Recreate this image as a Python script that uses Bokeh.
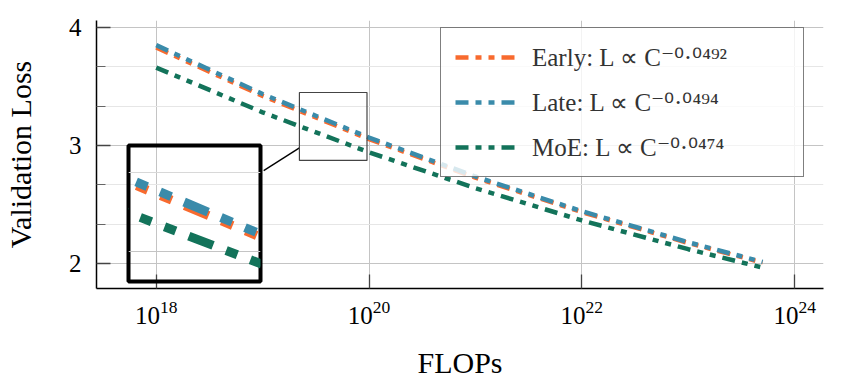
import math
from bokeh.plotting import figure
from bokeh.models import Range1d, FixedTicker, LogTickFormatter, Legend, LegendItem, BoxAnnotation
from bokeh.layouts import column
from bokeh.embed import file_html
from bokeh.resources import INLINE

# ---------------- data ----------------
flops = [1e18, 1e19, 1e20, 1e21, 1e22, 1e23, 5e23]
early = [3.83, 3.42, 3.054, 2.727, 2.435, 2.174, 2.007]
late = [3.85, 3.436, 3.067, 2.737, 2.443, 2.180, 2.013]
moe = [3.66, 3.281, 2.942, 2.638, 2.365, 2.121, 1.965]
series_names = ["Early", "Late", "MoE"]
series_exponents = ["0.0492", "0.0494", "0.0474"]
series_colors = ["#F86A2E", "#3A8BAA", "#13735A"]
x_ticks = [1e18, 1e20, 1e22, 1e24]
y_ticks = [2, 3, 4]
y_minor = [2 + 1 / 3, 2 + 2 / 3, 3 + 1 / 3, 3 + 2 / 3]
zoom_x = [10 ** 19.346, 10 ** 19.981]   # spy window (data)
zoom_y = [2.873, 3.449]
inset_anchor = (10 ** 17.74, 3.0)          # top-left of the magnified view (data)
magnification = 2.0

# ---------------- layout constants ----------------
W, H = 842, 385
BL, BT, BR, BB = 92, 20, 19, 97
FW, FH = W - BL - BR, H - BT - BB
x_lo, x_hi = 17.439, 24.271   # log10 range
y_lo, y_hi = 1.788, 4.059
sx = FW / (x_hi - x_lo)       # px per decade
sy = FH / (y_hi - y_lo)       # px per unit
SERIF = "Liberation Serif"
LW = 4.5
DASH = [13, 7, 6, 7, 6, 7]

p = figure(width=W, height=H, x_axis_type="log",
           x_range=Range1d(10 ** x_lo, 10 ** x_hi), y_range=Range1d(y_lo, y_hi),
           toolbar_location=None, output_backend="svg",
           min_border_left=BL, min_border_top=BT, min_border_right=BR, min_border_bottom=BB,
           x_axis_label="FLOPs", y_axis_label="Validation Loss")
p.outline_line_color = None
p.background_fill_color = "white"
p.border_fill_color = "white"

p.xaxis.ticker = FixedTicker(ticks=x_ticks, minor_ticks=[])
p.xaxis.formatter = LogTickFormatter()
p.yaxis.ticker = FixedTicker(ticks=y_ticks, minor_ticks=y_minor)
for ax in (p.xaxis[0], p.yaxis[0]):
    ax.axis_line_color = "black"
    ax.axis_line_width = 1.5
    ax.major_tick_in = 14
    ax.major_tick_out = 0
    ax.minor_tick_in = 9
    ax.minor_tick_out = 0
    ax.major_tick_line_color = "#444444"
    ax.major_tick_line_width = 1.3
    ax.minor_tick_line_color = "#666666"
    ax.major_label_text_font = SERIF
    ax.major_label_text_font_size = "25px"
    ax.major_label_text_color = "black"
    ax.axis_label_text_font = SERIF
    ax.axis_label_text_font_size = "30px"
    ax.axis_label_text_font_style = "normal"
    ax.axis_label_text_color = "black"
p.yaxis.major_label_standoff = 15
p.xaxis.major_label_standoff = 12
p.yaxis.axis_label_standoff = 29
p.xaxis.axis_label_standoff = 19

p.xgrid.grid_line_color = "#c4c4c4"
p.ygrid.grid_line_color = "#c4c4c4"
p.ygrid.minor_grid_line_color = "#e6e6e6"

series = [early, late, moe]
sup = str.maketrans("0123456789-.", "⁰¹²³⁴⁵⁶⁷⁸⁹⁻·")
items = []
for name, vals, col, ex in zip(series_names, series, series_colors, series_exponents):
    r = p.line(flops, vals, line_color=col, line_width=LW, line_dash=" ".join(str(d) for d in DASH))
    items.append(LegendItem(label=f"{name}: L ∝ C" + ("-" + ex).translate(sup), renderers=[r]))

legend = Legend(items=items, location=(344, 111), padding=14, spacing=15,
                glyph_width=65, glyph_height=30, label_height=30, label_width=257,
                label_standoff=12, label_text_font=SERIF, label_text_font_size="25px",
                label_text_color="#333333", border_line_color="black", border_line_width=1.5,
                background_fill_color="white", background_fill_alpha=0.8, margin=0)
p.add_layout(legend)

# spy window
p.add_layout(BoxAnnotation(left=zoom_x[0], right=zoom_x[1], bottom=zoom_y[0], top=zoom_y[1],
                           fill_alpha=0, line_color="#444444", line_alpha=1.0, line_width=1.2))

# geometry of the magnified view (in screen-linear units)
zu0, zu1 = math.log10(zoom_x[0]), math.log10(zoom_x[1])
zw_px = (zu1 - zu0) * sx
zh_px = (zoom_y[1] - zoom_y[0]) * sy
iw_px, ih_px = zw_px * magnification, zh_px * magnification
iu0 = math.log10(inset_anchor[0])
iv1 = inset_anchor[1]
iu1 = iu0 + iw_px / sx
iv0 = iv1 - ih_px / sy

# connector between box centres, clipped to both boxes
cs = ((zu0 + zu1) / 2 * sx, (zoom_y[0] + zoom_y[1]) / 2 * sy)
ci = ((iu0 + iu1) / 2 * sx, (iv0 + iv1) / 2 * sy)
dx, dy = cs[0] - ci[0], cs[1] - ci[1]
t_i = min((iw_px / 2) / abs(dx), (ih_px / 2) / abs(dy))
t_s = 1 - min((zw_px / 2) / abs(dx), (zh_px / 2) / abs(dy))
conn_x = [10 ** ((ci[0] + t_i * dx) / sx), 10 ** ((ci[0] + t_s * dx) / sx)]
conn_y = [(ci[1] + t_i * dy) / sy, (ci[1] + t_s * dy) / sy]
p.line(conn_x, conn_y, line_color="black", line_width=1.4)

# inset figure (column aligns its horizontal borders with the main plot)
IB = 3
left_px = (iu0 - x_lo) * sx
top_px = BT + (y_hi - iv1) * sy - IB
inset = figure(width=BL + int(round(iw_px)) + BR, height=int(round(ih_px)) + 2 * IB,
               x_axis_type="log", x_range=Range1d(*zoom_x), y_range=Range1d(*zoom_y),
               x_axis_location=None, y_axis_location=None,
               toolbar_location=None, output_backend="svg",
               min_border_left=BL, min_border_right=BR, min_border_top=IB, min_border_bottom=IB,
               styles={"position": "absolute", "left": f"{left_px:.1f}px", "top": f"{top_px:.1f}px",
                       "background": "transparent", "z-index": "5"})
inset.outline_line_color = "black"
inset.outline_line_width = 4
inset.background_fill_color = "white"
inset.background_fill_alpha = 0
inset.border_fill_color = "white"
inset.border_fill_alpha = 0
inset.xgrid.visible = False
inset.ygrid.ticker = FixedTicker(ticks=y_ticks, minor_ticks=y_minor)
inset.ygrid.grid_line_color = "#c4c4c4"
inset.ygrid.minor_grid_line_color = "#d8d8d8"
for vals, col in zip(series, series_colors):
    inset.line(flops, vals, line_color=col, line_width=LW * magnification,
               line_dash=" ".join(str(int(d * magnification)) for d in DASH))

layout = column(p, inset)
open("out.html", "w").write(file_html(layout, INLINE))
